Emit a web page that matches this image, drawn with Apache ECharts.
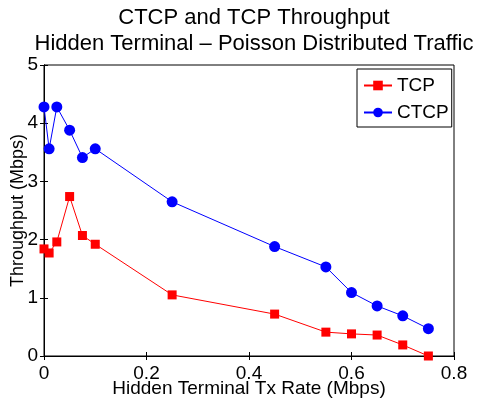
<!DOCTYPE html>
<html>
<head>
<meta charset="utf-8">
<script src="https://cdn.jsdelivr.net/npm/echarts@6/dist/echarts.min.js"></script>
<style>
  html, body { margin: 0; padding: 0; background: #fff; }
  #chart { width: 484px; height: 399px; }
</style>
</head>
<body>
<div id="chart"></div>
<script>
// Hidden-terminal transmit rates (Mbps)
const txRate = [0, 0.01, 0.025, 0.05, 0.075, 0.1, 0.25, 0.45, 0.55, 0.6, 0.65, 0.7, 0.75];
// Measured throughput (Mbps)
const tcpThroughput  = [1.84, 1.77, 1.96, 2.74, 2.07, 1.92, 1.05, 0.72, 0.41, 0.38, 0.36, 0.19, 0.0];
const ctcpThroughput = [4.28, 3.56, 4.28, 3.88, 3.41, 3.56, 2.65, 1.88, 1.53, 1.09, 0.86, 0.69, 0.47];
const xTicks = [0, 0.2, 0.4, 0.6, 0.8];
const yTicks = [0, 1, 2, 3, 4, 5];

const FONT = 'Liberation Sans, Arial, Helvetica, sans-serif';
const pairs = (xs, ys) => xs.map((x, i) => [x, ys[i]]);

const chart = echarts.init(document.getElementById('chart'), null, { renderer: 'canvas' });

const tickLabel = v => (Math.abs(v) < 1e-9 ? '0' : String(+v.toFixed(1)));

const boxAxis = (position, ticks) => ({
  type: 'value', min: ticks[0], max: ticks[ticks.length - 1],
  interval: ticks[1] - ticks[0], position,
  axisLine: { show: true, lineStyle: { color: '#000' } },
  axisTick: { inside: true, length: 4, lineStyle: { color: '#000' } },
  axisLabel: { show: false }, splitLine: { show: false }
});

chart.setOption({
  animation: false,
  backgroundColor: '#fff',
  title: [
    { text: 'CTCP and TCP Throughput', left: 249, top: 2, textAlign: 'center',
      textStyle: { fontFamily: FONT, fontSize: 22, fontWeight: 'normal', color: '#000' } },
    { text: 'Hidden Terminal \u2013 Poisson Distributed Traffic', left: 249, top: 28, textAlign: 'center',
      textStyle: { fontFamily: FONT, fontSize: 22, fontWeight: 'normal', color: '#000' } }
  ],
  grid: {
    left: 44, right: 30, top: 65, bottom: 43,
    containLabel: false, outerBoundsMode: 'none',
    show: true, borderColor: '#000', borderWidth: 1
  },
  legend: {
    left: 357, top: 69, orient: 'vertical',
    itemWidth: 28, itemHeight: 12, itemGap: 8,
    padding: [7, 3, 5, 6],
    borderColor: '#000', borderWidth: 1, backgroundColor: '#fff',
    textStyle: { fontFamily: FONT, fontSize: 19, color: '#000', lineHeight: 14 },
    data: ['TCP', 'CTCP']
  },
  xAxis: [
    Object.assign(boxAxis('bottom', xTicks), {
      name: 'Hidden Terminal Tx Rate (Mbps)', nameLocation: 'middle', nameGap: 23,
      nameMoveOverlap: false,
      nameTextStyle: { fontFamily: FONT, fontSize: 19, color: '#000' },
      axisLabel: { fontFamily: FONT, fontSize: 19, color: '#000', margin: 8, formatter: tickLabel }
    }),
    boxAxis('top', xTicks)
  ],
  yAxis: [
    Object.assign(boxAxis('left', yTicks), {
      name: 'Throughput (Mbps)', nameLocation: 'middle', nameGap: 17,
      nameMoveOverlap: false,
      nameTextStyle: { fontFamily: FONT, fontSize: 18, color: '#000' },
      axisLabel: { fontFamily: FONT, fontSize: 19, color: '#000', margin: 6, formatter: tickLabel }
    }),
    boxAxis('right', yTicks)
  ],
  series: [
    { name: 'TCP', type: 'line', data: pairs(txRate, tcpThroughput),
      symbol: 'rect', symbolSize: 9, color: '#ff0000',
      lineStyle: { color: '#ff0000', width: 1 }, itemStyle: { color: '#ff0000' } },
    { name: 'CTCP', type: 'line', data: pairs(txRate, ctcpThroughput),
      symbol: 'circle', symbolSize: 11, color: '#0000ff',
      lineStyle: { color: '#0000ff', width: 1 }, itemStyle: { color: '#0000ff' } }
  ]
});
</script>
</body>
</html>
